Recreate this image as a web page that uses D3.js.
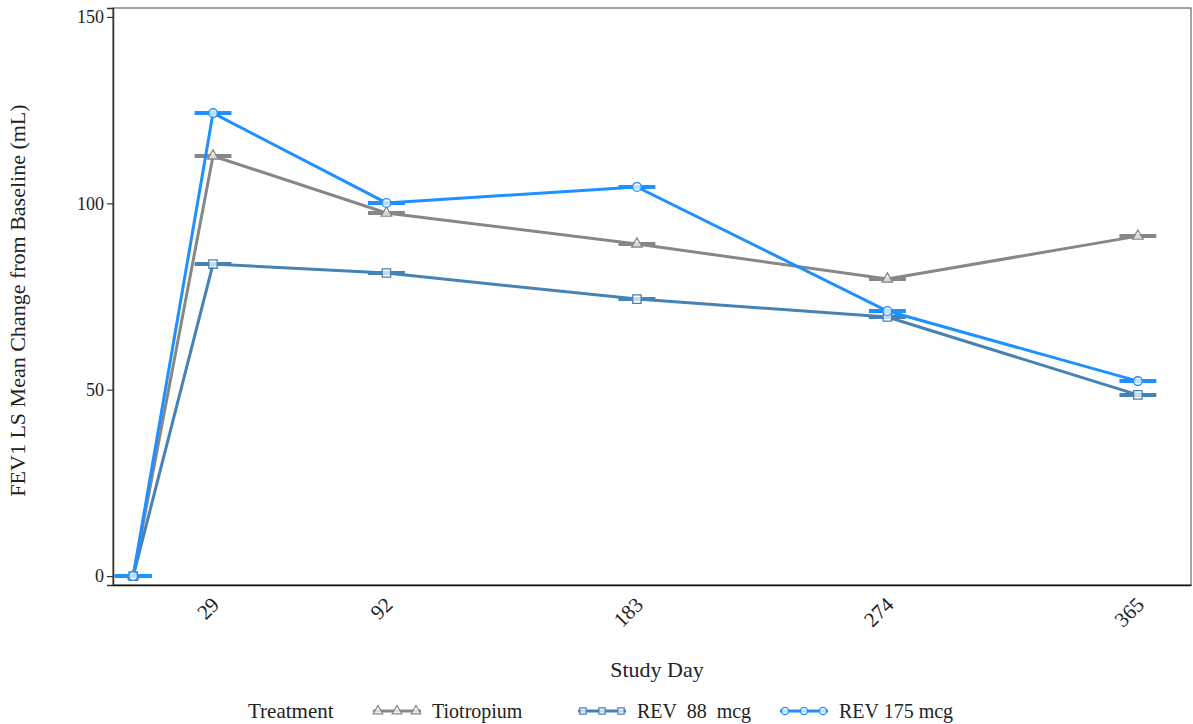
<!DOCTYPE html>
<html><head><meta charset="utf-8">
<script src="https://cdn.jsdelivr.net/npm/d3@7"></script>
<style>body{margin:0;background:#fff}svg{display:block}text{font-family:'Liberation Serif','Times New Roman',serif}</style>
</head><body><svg id="c" width="1193" height="724"></svg>
<script>
const days = [0, 29, 92, 183, 274, 365];
const tickDays = [29, 92, 183, 274, 365];
const yTicks = [0, 50, 100, 150];
const seriesNames = ["Tiotropium", "REV  88  mcg", "REV 175 mcg"];
const tiotropium = [0, 112.7, 97.4, 89.1, 79.7, 91.2];
const rev88 = [0, 83.7, 81.3, 74.3, 69.5, 48.6];
const rev175 = [0, 124.2, 100.1, 104.4, 71.1, 52.3];
const colors = ["#878787", "#4682B4", "#1E90FF"];
const shapes = ["triangle", "square", "circle"];

const svg = d3.select("#c");
const font = "'Liberation Serif', 'Times New Roman', serif";
const L = 113, R = 1191, T = 8, B = 585;
const x = d3.scaleLinear().domain([-7.34, 384.3]).range([L, R]);
const y = d3.scaleLinear().domain([-2.4, 152.4]).range([B, T]);

// panel border
svg.append("rect").attr("x", L).attr("y", T).attr("width", R - L).attr("height", B - T)
  .attr("fill", "none").attr("stroke", "#666").attr("stroke-width", 1.2);

// y axis
const yAxis = svg.append("g").attr("transform", `translate(${L},0)`)
  .call(d3.axisLeft(y).tickValues(yTicks).tickSize(6).tickPadding(3));
yAxis.attr("font-family", font);
yAxis.select(".domain").attr("stroke", "#333").attr("stroke-width", 1.5);
yAxis.selectAll(".tick line").attr("stroke", "#333").attr("stroke-width", 1.2);
yAxis.selectAll("text").style("font-family", font).attr("font-size", 18).attr("fill", "#222");

// x axis
const xAxis = svg.append("g").attr("transform", `translate(0,${B})`)
  .call(d3.axisBottom(x).tickValues(tickDays).tickSize(0).tickFormat(d3.format("d")));
xAxis.attr("font-family", font);
xAxis.select(".domain").attr("stroke", "#111").attr("stroke-width", 1.5);
xAxis.selectAll(".tick text")
  .style("font-family", font).attr("font-size", 21).attr("fill", "#222")
  .attr("text-anchor", "end").attr("dy", null).attr("y", 0)
  .attr("transform", "translate(7,21) rotate(-45)");

// axis titles
svg.append("text").attr("x", (L + R) / 2 + 5).attr("y", 677).attr("text-anchor", "middle")
  .attr("font-size", 22).attr("fill", "#222").text("Study Day");
svg.append("text").attr("transform", `translate(25,${(T + B) / 2 + 4}) rotate(-90)`)
  .attr("text-anchor", "middle").attr("font-size", 22)
  .attr("fill", "#222").text("FEV1 LS Mean Change from Baseline (mL)");

const allSeries = [tiotropium, rev88, rev175];
const line = d3.line().x(d => x(d[0])).y(d => y(d[1]));
const symType = { triangle: d3.symbolTriangle, square: d3.symbolSquare, circle: d3.symbolCircle };
const symSize = { triangle: 48, square: 70, circle: 60 };
const barHalf = 6.7;

allSeries.forEach((vals, i) => {
  const pts = days.map((d, j) => [d, vals[j]]);
  const g = svg.append("g");
  g.append("path").datum(pts).attr("d", line).attr("fill", "none")
    .attr("stroke", colors[i]).attr("stroke-width", 3);
  g.selectAll("line.bar").data(pts).join("line").attr("class", "bar")
    .attr("x1", d => x(d[0] - barHalf)).attr("x2", d => x(d[0] + barHalf))
    .attr("y1", d => y(d[1])).attr("y2", d => y(d[1]))
    .attr("stroke", colors[i]).attr("stroke-width", 4);
  g.selectAll("path.pt").data(pts).join("path").attr("class", "pt")
    .attr("transform", d => `translate(${x(d[0])},${y(d[1])})`)
    .attr("d", d3.symbol().type(symType[shapes[i]]).size(symSize[shapes[i]]))
    .attr("fill", "rgba(255,255,255,0.7)")
    .attr("stroke", colors[i]).attr("stroke-width", 1.3);
});

// legend
const ly = 711;
svg.append("text").attr("x", 248).attr("y", ly + 7)
  .attr("font-size", 21).attr("fill", "#222").text("Treatment");
const keyX = [373, 578, 780];
seriesNames.forEach((name, i) => {
  const g = svg.append("g").attr("transform", `translate(${keyX[i]},${ly})`);
  g.append("line").attr("x1", 0).attr("x2", 48).attr("y1", 0).attr("y2", 0)
    .attr("stroke", colors[i]).attr("stroke-width", 3);
  [5, 24, 43].forEach(px => {
    g.append("path").attr("transform", `translate(${px},0)`)
      .attr("d", d3.symbol().type(symType[shapes[i]]).size(40))
      .attr("fill", "rgba(255,255,255,0.7)").attr("stroke", colors[i]).attr("stroke-width", 1.2);
  });
  g.append("text").attr("x", 59).attr("y", 7)
    .attr("font-size", 20).attr("fill", "#222")
    .style("white-space", "pre").text(name);
});
</script></body></html>
